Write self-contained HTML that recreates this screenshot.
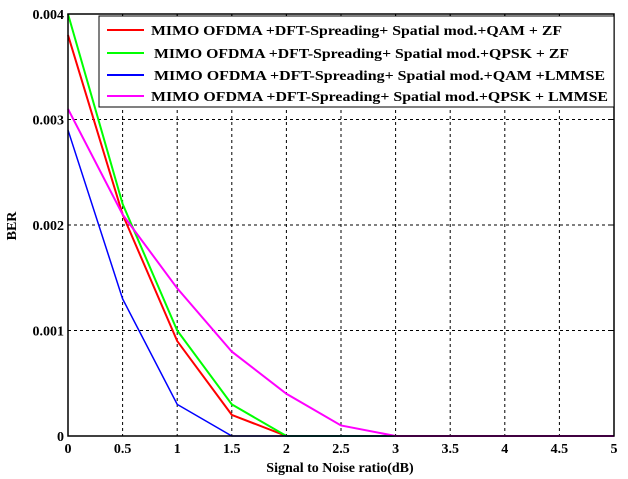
<!DOCTYPE html>
<html><head><meta charset="utf-8"><style>
html,body{margin:0;padding:0;background:#fff;}
svg{display:block;}
text{font-family:"Liberation Serif",serif;font-weight:bold;fill:#000;}
</style></head><body>
<svg id="chart" width="628" height="479" xmlns="http://www.w3.org/2000/svg">
<rect x="0" y="0" width="628" height="479" fill="#fff"/>
<g id="grid"></g>
<g id="series"></g>
<g id="axes"></g>
<text x="340" y="472" text-anchor="middle" font-size="14">Signal to Noise ratio(dB)</text>
<text transform="translate(16,226) rotate(-90)" text-anchor="middle" font-size="14">BER</text>
<g id="legend"></g>
</svg>
<script>
const snr = [0,0.5,1,1.5,2,2.5,3,3.5,4,4.5,5];
const berQamZf = [0.0038,0.0021,0.0009,0.0002,0,0,0,0,0,0,0];
const berQpskZf = [0.0040,0.0022,0.0010,0.0003,0,0,0,0,0,0,0];
const berQamLmmse = [0.0029,0.0013,0.0003,0,0,0,0,0,0,0,0];
const berQpskLmmse = [0.0031,0.0021,0.0014,0.0008,0.0004,0.0001,0,0,0,0,0];
const xTicks = [0,0.5,1,1.5,2,2.5,3,3.5,4,4.5,5];
const xTickLabels = ["0","0.5","1","1.5","2","2.5","3","3.5","4","4.5","5"];
const yTicks = [0,0.001,0.002,0.003,0.004];
const yTickLabels = ["0","0.001","0.002","0.003","0.004"];
const seriesNames = ["MIMO OFDMA +DFT-Spreading+ Spatial mod.+QAM + ZF","MIMO OFDMA +DFT-Spreading+ Spatial mod.+QPSK + ZF","MIMO OFDMA +DFT-Spreading+ Spatial mod.+QAM +LMMSE","MIMO OFDMA +DFT-Spreading+ Spatial mod.+QPSK + LMMSE"];

const NS="http://www.w3.org/2000/svg";
const L=68,R=614,T=14,B=436;
const xs=v=>L+(v-0)/(5-0)*(R-L);
const ys=v=>B-(v/0.004)*(B-T);
function mk(tag,attrs,parent){const e=document.createElementNS(NS,tag);for(const k in attrs)e.setAttribute(k,attrs[k]);parent.appendChild(e);return e;}
const grid=document.getElementById('grid'),axes=document.getElementById('axes'),ser=document.getElementById('series'),leg=document.getElementById('legend');
xTicks.forEach((t,i)=>{
  if(i>0&&i<xTicks.length-1){const g=mk('line',{x1:xs(t),x2:xs(t),y1:T,y2:B,stroke:'#000','stroke-width':1,'stroke-dasharray':'3,3'},grid);
  
  }
  const tk=mk('line',{x1:xs(t),x2:xs(t),y1:T,y2:T+5,stroke:'#000'},axes);
  
  
  const lb=mk('text',{x:xs(t),y:453,'text-anchor':'middle','font-size':14},axes);
  lb.textContent=xTickLabels[i];
  
  
});
yTicks.forEach((t,i)=>{
  if(i>0&&i<yTicks.length-1){const g=mk('line',{x1:L,x2:R,y1:ys(t),y2:ys(t),stroke:'#000','stroke-width':1,'stroke-dasharray':'3,3'},grid);
  
  }
  const tk=mk('line',{x1:R-5,x2:R,y1:ys(t),y2:ys(t),stroke:'#000'},axes);
  
  
  const lb=mk('text',{x:L-4,y:ys(t)+5,'text-anchor':'end','font-size':14},axes);
  lb.textContent=yTickLabels[i];
  
  
});
const fr=mk('rect',{x:L,y:T,width:R-L,height:B-T,fill:'none',stroke:'#000','stroke-width':1.5},axes);


const allSeries=[[berQamZf,'#ff0000',2,'qam-zf'],[berQpskZf,'#00ff00',2,'qpsk-zf'],[berQamLmmse,'#0000ff',1.5,'qam-lmmse'],[berQpskLmmse,'#ff00ff',2,'qpsk-lmmse']];
allSeries.forEach(s=>{
  const p=mk('polyline',{points:s[0].map((v,i)=>xs(snr[i])+','+ys(v)).join(' '),fill:'none',stroke:s[1],'stroke-width':s[2]},ser);
  
  
});
const lb=mk('rect',{x:99,y:16,width:515,height:91,fill:'#fff',stroke:'#000','stroke-width':1},leg);


const rowY=[30,53,75,96],tx=[151,154,154,151],tw=[411,415,451,457];
allSeries.forEach((s,i)=>{
  const l=mk('line',{x1:107,x2:144,y1:rowY[i],y2:rowY[i],stroke:s[1],'stroke-width':2},leg);
  
  
  const t=mk('text',{x:tx[i],y:rowY[i]+5,'font-size':14,textLength:tw[i],lengthAdjust:'spacingAndGlyphs'},leg);
  t.textContent=seriesNames[i];
  
  
});
</script>
</body></html>
